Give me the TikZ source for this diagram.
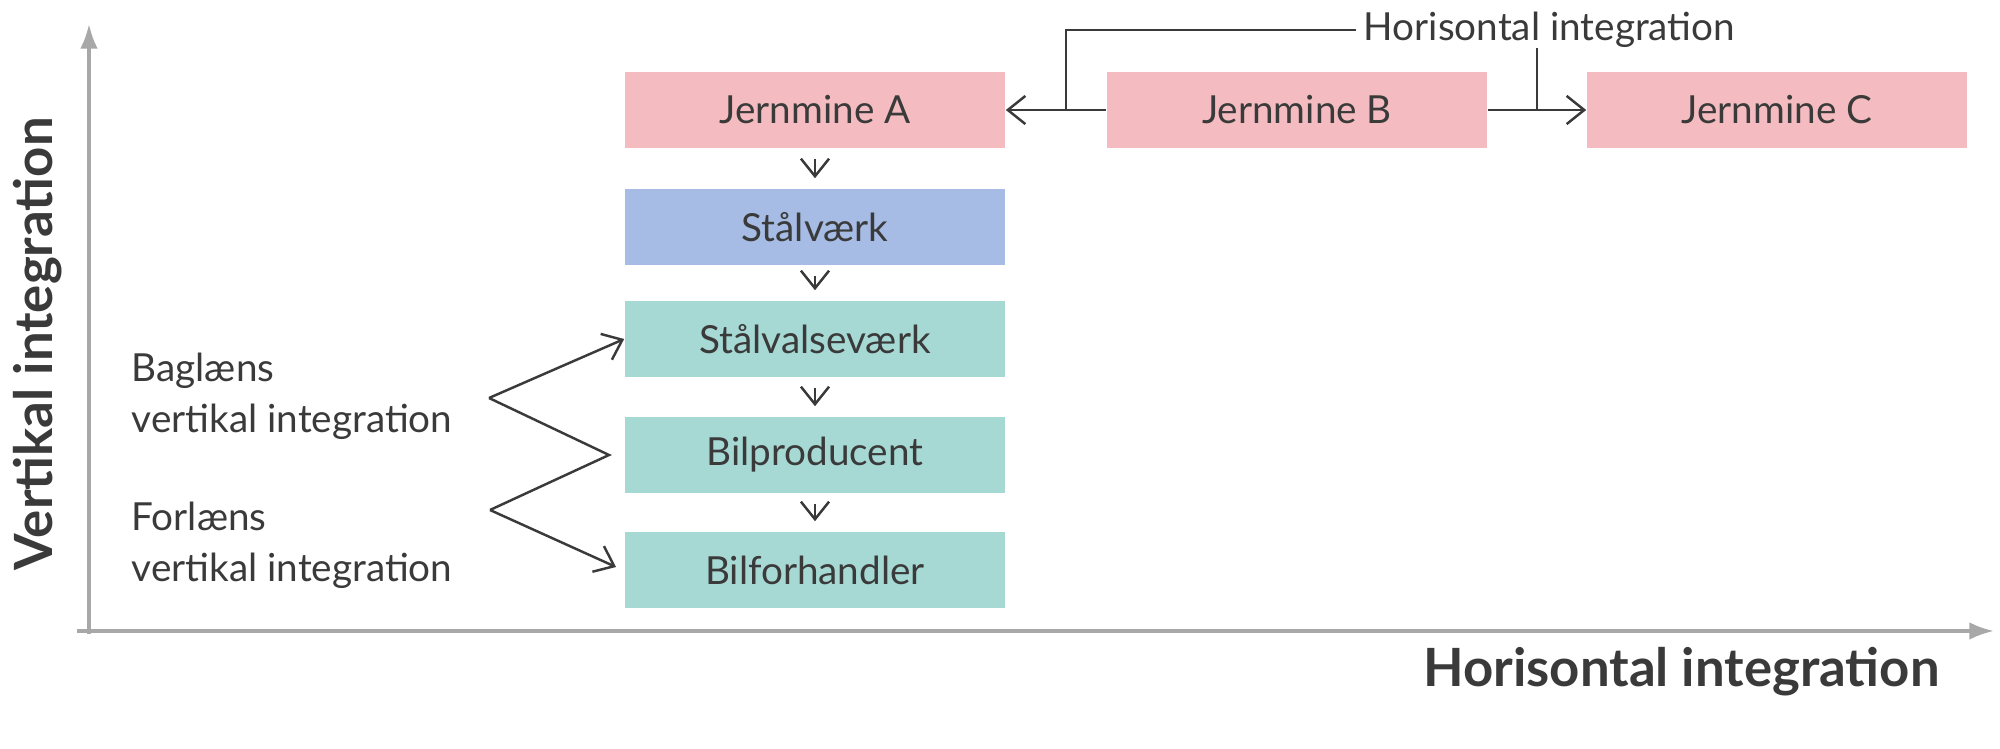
\documentclass[tikz,border=0pt]{standalone}
\usepackage{fontspec}
\setmainfont{Lato}
\usetikzlibrary{arrows.meta}

\definecolor{minepink}{HTML}{F4BCC0}
\definecolor{steelblue}{HTML}{A6BCE4}
\definecolor{carteal}{HTML}{A6D9D4}
\definecolor{axisgray}{HTML}{A8A8A8}
\definecolor{textgray}{HTML}{3A3A3A}

\tikzset{
	stage/.style={minimum width=3.8cm, minimum height=0.75cm, inner sep=0pt, font=\fontsize{11}{13}\selectfont, text=textgray},
	flow/.style={draw=textgray, line width=0.7pt, -{Straight Barb[length=5pt,width=8pt]}},
	axis/.style={draw=axisgray, line width=1pt, -{Latex[length=7pt,width=5pt]}},
	side/.style={align=left, anchor=north west, font=\fontsize{11}{14.5}\selectfont, text=textgray, inner sep=0pt}
}

\begin{document}
\begin{tikzpicture}[x=0.01cm, y=-0.01cm]
	\useasboundingbox (0,0) rectangle (2000,749);
	% axes
	\coordinate (o) at (89,634);
	\coordinate (ytop) at (89,24);
	\coordinate (xend) at (1994,631);
	\coordinate (xstart) at (77,631);
	\draw[axis] (o) -- (ytop);
	\draw[axis] (xstart) -- (xend);
	\node[rotate=90, font=\bfseries\fontsize{15}{18}\selectfont, text=textgray] (vlab) at (38,344) {Vertikal integration};
	\node[anchor=east, font=\bfseries\fontsize{15}{18}\selectfont, text=textgray] (hlab) at (1952,672) {Horisontal integration};
	% the vertical chain
	\node[stage, fill=minepink] (a) at (815,110) {Jernmine A};
	\node[stage, fill=minepink] (b) at (1297,110) {Jernmine B};
	\node[stage, fill=minepink] (c) at (1777,110) {Jernmine C};
	\node[stage, fill=steelblue] (steel) at (815,227) {Stålværk};
	\node[stage, fill=carteal] (mill) at (815,339) {Stålvalseværk};
	\node[stage, fill=carteal] (maker) at (815,455) {Bilproducent};
	\node[stage, fill=carteal] (dealer) at (815,570) {Bilforhandler};
	\foreach \u/\v in {a/steel, steel/mill, mill/maker, maker/dealer}
		\draw[flow, shorten >=3pt, shorten <=3pt] (\u) -- (\v);
	% horizontal
	\node[anchor=west, font=\fontsize{11}{13}\selectfont, text=textgray, inner sep=2pt] (htop) at (1356,30) {Horisontal integration};
	\draw[flow] (b.west) -- (a.east);
	\draw[draw=textgray, line width=0.7pt] (htop.west) -| (1066,110);
	\draw[flow] (b.east) -- (c.west);
	\draw[draw=textgray, line width=0.7pt] (1537,48) -- (1537,110);
	% side labels
	\node[side] (back) at (131,352) {Baglæns\\vertikal integration};
	\node[side] (fwd) at (131,501) {Forlæns\\vertikal integration};
	\coordinate (z1) at (489,398);
	\coordinate (z2) at (609,455);
	\coordinate (z3) at (490,510);
	\coordinate (z4) at (616,567);
	\draw[flow] (z1) -- (mill.west);
	\draw[draw=textgray, line width=0.7pt, line join=miter] (z1) -- (z2) -- (z3);
	\draw[flow] (z3) -- (z4);
\end{tikzpicture}
\end{document}
